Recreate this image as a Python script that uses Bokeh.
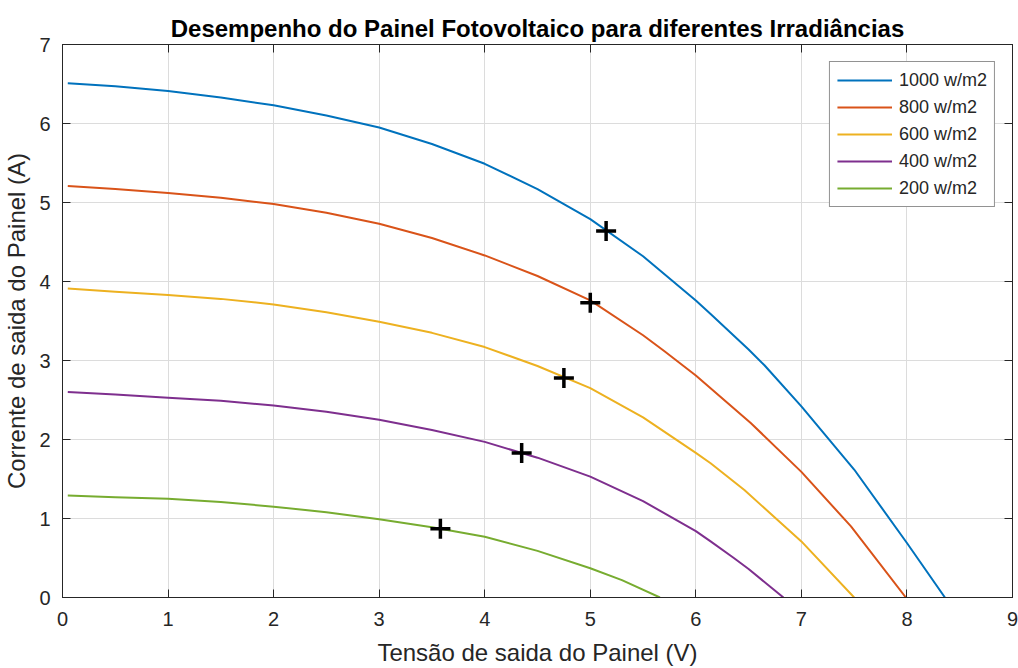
from bokeh.plotting import figure
from bokeh.models import Range1d, LinearAxis, FixedTicker, Legend, LegendItem
from bokeh.embed import file_html
from bokeh.resources import INLINE

# ---- data ----
v_1000 = [0.05, 0.5, 1, 1.5, 2, 2.5, 3, 3.5, 4, 4.5, 5, 5.5, 6, 6.14, 6.5, 6.65, 7, 7.5, 8, 8.36]
i_1000 = [6.51, 6.47, 6.41, 6.33, 6.23, 6.10, 5.95, 5.74, 5.49, 5.17, 4.79, 4.32, 3.76, 3.59, 3.14, 2.94, 2.42, 1.62, 0.69, 0.0]

v_800 = [0.05, 0.5, 1, 1.5, 2, 2.5, 3, 3.5, 4, 4.5, 5, 5.5, 5.7, 6, 6.52, 7, 7.47, 7.99]
i_800 = [5.21, 5.17, 5.12, 5.06, 4.98, 4.87, 4.73, 4.55, 4.33, 4.07, 3.76, 3.32, 3.12, 2.81, 2.21, 1.59, 0.90, 0.0]

v_600 = [0.05, 0.5, 1, 1.5, 2, 2.5, 3, 3.5, 4, 4.5, 5, 5.5, 6, 6.14, 6.46, 7, 7.5]
i_600 = [3.91, 3.87, 3.83, 3.78, 3.71, 3.61, 3.49, 3.35, 3.17, 2.93, 2.65, 2.28, 1.83, 1.70, 1.36, 0.71, 0.0]

v_400 = [0.05, 0.5, 1, 1.5, 2, 2.5, 3, 3.5, 4, 4.5, 5, 5.5, 6, 6.14, 6.36, 6.5, 6.83]
i_400 = [2.60, 2.57, 2.53, 2.49, 2.43, 2.35, 2.25, 2.12, 1.97, 1.77, 1.53, 1.22, 0.84, 0.71, 0.50, 0.36, 0.0]

v_200 = [0.05, 0.5, 1, 1.5, 2, 2.5, 3, 3.5, 4, 4.5, 5, 5.3, 5.66]
i_200 = [1.29, 1.27, 1.25, 1.21, 1.15, 1.08, 0.99, 0.89, 0.77, 0.59, 0.37, 0.22, 0.0]

mpp_v = [5.15, 5.00, 4.75, 4.35, 3.58]
mpp_i = [4.64, 3.73, 2.78, 1.83, 0.87]

labels = ["1000 w/m2", "800 w/m2", "600 w/m2", "400 w/m2", "200 w/m2"]
colors = ["#0072BD", "#D95319", "#EDB120", "#7E2F8E", "#77AC30"]

x_ticks = [0, 1, 2, 3, 4, 5, 6, 7, 8, 9]
y_ticks = [0, 1, 2, 3, 4, 5, 6, 7]

FONT = "Liberation Sans"
DARK = "#262626"

p = figure(width=1018, height=668, output_backend="svg", toolbar_location=None,
           x_range=Range1d(0, 9), y_range=Range1d(0, 7),
           min_border_left=60, min_border_right=6, min_border_top=44, min_border_bottom=70)

p.title.text = "Desempenho do Painel Fotovoltaico para diferentes Irradiâncias"
p.title.align = "center"
p.title.text_font = FONT
p.title.text_font_size = "24px"
p.title.text_font_style = "bold"
p.title.text_color = "black"
p.title.standoff = 6

p.background_fill_color = "white"
p.border_fill_color = "white"
p.outline_line_color = DARK
p.outline_line_width = 1

for ax, ticks in ((p.xaxis[0], x_ticks), (p.yaxis[0], y_ticks)):
    ax.ticker = FixedTicker(ticks=ticks)
    ax.major_tick_in = 8
    ax.major_tick_out = 0
    ax.minor_tick_line_color = None
    ax.axis_line_color = DARK
    ax.major_tick_line_color = DARK
    ax.major_label_text_font = FONT
    ax.major_label_text_font_size = "20px"
    ax.major_label_text_color = DARK
    ax.axis_label_text_font = FONT
    ax.axis_label_text_font_size = "24px"
    ax.axis_label_text_font_style = "normal"
    ax.axis_label_text_color = DARK

p.xaxis.axis_label = "Tensão de saida do Painel (V)"
p.yaxis.axis_label = "Corrente de saida do Painel (A)"
p.xaxis.major_label_standoff = 14
p.yaxis.major_label_standoff = 12
p.xaxis.axis_label_standoff = 10
p.yaxis.axis_label_standoff = 6

# box ticks on top and right
top = LinearAxis(ticker=FixedTicker(ticks=x_ticks), major_tick_in=8, major_tick_out=0,
                 minor_tick_line_color=None, major_label_text_font_size="0px",
                 major_label_standoff=0, axis_line_color=DARK, major_tick_line_color=DARK)
right = LinearAxis(ticker=FixedTicker(ticks=y_ticks), major_tick_in=8, major_tick_out=0,
                   minor_tick_line_color=None, major_label_text_font_size="0px",
                   major_label_standoff=0, axis_line_color=DARK, major_tick_line_color=DARK)
p.add_layout(top, "above")
p.add_layout(right, "right")

p.xgrid.ticker = FixedTicker(ticks=x_ticks)
p.ygrid.ticker = FixedTicker(ticks=y_ticks)
for g in (p.xgrid[0], p.ygrid[0]):
    g.grid_line_color = "#dcdcdc"
    g.grid_line_width = 1

series = [(v_1000, i_1000), (v_800, i_800), (v_600, i_600), (v_400, i_400), (v_200, i_200)]
items = []
for (xs, ys), lab, col in zip(series, labels, colors):
    r = p.line(xs, ys, line_color=col, line_width=2, line_join="round")
    items.append(LegendItem(label=lab, renderers=[r]))

p.scatter(mpp_v, mpp_i, marker="cross", size=20, line_color="black", line_width=3.5)

legend = Legend(items=items, location="top_right")
legend.label_text_font = FONT
legend.label_text_font_size = "18px"
legend.label_text_color = DARK
legend.glyph_width = 55
legend.glyph_height = 22
legend.label_height = 22
legend.label_standoff = 7
legend.spacing = 5
legend.padding = 7
legend.margin = 17
legend.border_line_color = DARK
legend.border_line_width = 1
legend.background_fill_color = "white"
legend.background_fill_alpha = 1
p.add_layout(legend)

open("out.html", "w").write(file_html(p, INLINE))
